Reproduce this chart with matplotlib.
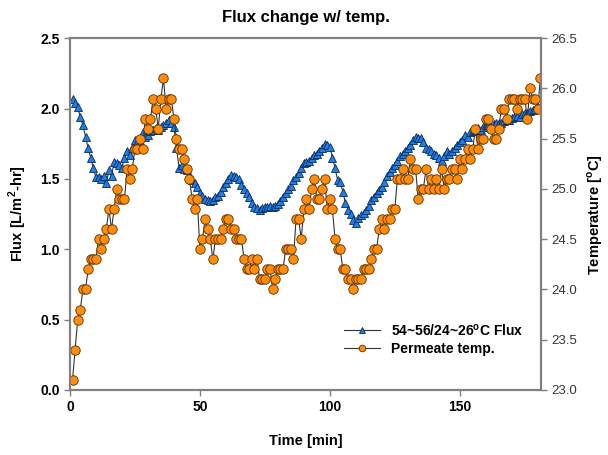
import matplotlib
matplotlib.use('Agg')
import matplotlib.pyplot as plt
import numpy as np

plt.rcParams['font.family'] = ['Liberation Sans', 'DejaVu Sans']
plt.rcParams['mathtext.fontset'] = 'custom'
plt.rcParams['mathtext.rm'] = 'Liberation Sans'
plt.rcParams['mathtext.bf'] = 'Liberation Sans:bold'

# time [min]
time = list(range(1, 182))

# flux [L/m2-hr]
flux = [2.07, 2.04, 2.01, 1.94, 1.88, 1.80, 1.72, 1.65, 1.58, 1.51,
        1.51, 1.50, 1.52, 1.47, 1.56, 1.52, 1.62, 1.61, 1.60, 1.58,
        1.65, 1.70, 1.67, 1.72, 1.78, 1.76, 1.77, 1.83, 1.80, 1.81,
        1.84, 1.85, 1.86, 1.85, 1.87, 1.88, 1.90, 1.92, 1.90, 1.87,
        1.72, 1.58, 1.60, 1.57, 1.56, 1.52, 1.49, 1.47, 1.44, 1.40,
        1.38, 1.36, 1.35, 1.34, 1.35, 1.37, 1.38, 1.41, 1.44, 1.47,
        1.50, 1.53, 1.52, 1.51, 1.50, 1.46, 1.43, 1.40, 1.37, 1.33,
        1.30, 1.29, 1.28, 1.29, 1.30, 1.30, 1.31, 1.30, 1.31, 1.32,
        1.34, 1.37, 1.40, 1.43, 1.45, 1.49, 1.51, 1.54, 1.58, 1.61,
        1.62, 1.63, 1.65, 1.67, 1.68, 1.70, 1.72, 1.75, 1.74, 1.73,
        1.65, 1.58, 1.49, 1.48, 1.41, 1.33, 1.28, 1.25, 1.21, 1.19,
        1.22, 1.24, 1.26, 1.28, 1.31, 1.35, 1.37, 1.40, 1.42, 1.44,
        1.48, 1.52, 1.55, 1.58, 1.60, 1.63, 1.66, 1.68, 1.70, 1.72,
        1.74, 1.78, 1.80, 1.79, 1.79, 1.76, 1.72, 1.71, 1.70, 1.68,
        1.67, 1.65, 1.63, 1.66, 1.70, 1.68, 1.70, 1.72, 1.74, 1.76,
        1.78, 1.81, 1.80, 1.83, 1.84, 1.85, 1.86, 1.85, 1.87, 1.88,
        1.88, 1.87, 1.89, 1.90, 1.90, 1.90, 1.91, 1.92, 1.92, 1.93,
        1.94, 1.95, 1.94, 1.96, 1.97, 1.97, 1.98, 1.99, 2.00, 2.01,
        2.00]

# permeate temperature [C]
temp = [23.1, 23.4, 23.7, 23.8, 24.0, 24.0, 24.2, 24.3, 24.3, 24.3,
        24.5, 24.4, 24.5, 24.6, 24.8, 24.6, 24.8, 25.0, 24.9, 24.9,
        24.9, 25.2, 25.1, 25.2, 25.4, 25.4, 25.5, 25.4, 25.7, 25.6,
        25.7, 25.9, 25.8, 25.6, 25.9, 26.1, 25.8, 25.9, 25.9, 25.7,
        25.5, 25.4, 25.4, 25.3, 25.2, 25.1, 24.9, 24.8, 24.9, 24.4,
        24.5, 24.7, 24.6, 24.5, 24.3, 24.5, 24.5, 24.5, 24.6, 24.7,
        24.7, 24.6, 24.6, 24.5, 24.5, 24.5, 24.3, 24.2, 24.2, 24.3,
        24.2, 24.3, 24.1, 24.1, 24.1, 24.2, 24.2, 24.0, 24.1, 24.2,
        24.2, 24.2, 24.4, 24.4, 24.4, 24.3, 24.7, 24.7, 24.5, 24.8,
        24.9, 24.8, 25.0, 25.1, 24.9, 24.9, 25.0, 25.1, 24.8, 24.9,
        24.8, 24.5, 24.4, 24.4, 24.2, 24.2, 24.1, 24.1, 24.0, 24.1,
        24.1, 24.1, 24.2, 24.2, 24.2, 24.3, 24.4, 24.4, 24.6, 24.7,
        24.6, 24.7, 24.7, 24.8, 24.8, 25.1, 25.1, 25.2, 25.1, 25.1,
        25.3, 25.2, 25.2, 24.9, 25.0, 25.0, 25.2, 25.0, 25.1, 25.0,
        25.1, 25.0, 25.2, 25.0, 25.1, 25.1, 25.2, 25.2, 25.1, 25.3,
        25.2, 25.3, 25.4, 25.3, 25.4, 25.6, 25.4, 25.5, 25.5, 25.7,
        25.7, 25.6, 25.5, 25.5, 25.6, 25.8, 25.8, 25.7, 25.9, 25.9,
        25.9, 25.8, 25.9, 25.9, 25.9, 25.7, 26.0, 25.9, 25.9, 25.8,
        26.1]

fig = plt.figure(figsize=(6.08, 4.55), dpi=100)
ax1 = fig.add_axes([0.115, 0.143, 0.775, 0.773])
ax2 = ax1.twinx()

l1, = ax1.plot(time, flux, color='#333333', lw=0.8, marker='^', ms=6,
               mfc='#1f7fe6', mec='#0a2a5a', mew=0.6)
l2, = ax2.plot(time, temp, color='#333333', lw=0.8, marker='o', ms=6.8,
               mfc='#ff8c0a', mec='#5a3000', mew=0.6)

ax1.set_xlim(0, 181.3)
ax1.set_ylim(0, 2.5)
ax2.set_ylim(23.0, 26.5)
ax1.set_xticks([0, 50, 100, 150])
ax1.set_yticks(np.arange(0, 2.51, 0.5))
ax2.set_yticks(np.arange(23.0, 26.51, 0.5))

for sp in ['left', 'right', 'top', 'bottom']:
    ax1.spines[sp].set_color('#808080')
    ax1.spines[sp].set_linewidth(1.5)
    ax2.spines[sp].set_color('#808080')
    ax2.spines[sp].set_linewidth(1.5)

ax1.tick_params(axis='both', direction='out', length=4, width=1, color='#808080',
                labelsize=10)
ax2.tick_params(axis='y', direction='out', length=4, width=1, color='#808080',
                labelsize=9.5, labelcolor='#333333')
for lab in ax1.get_xticklabels() + ax1.get_yticklabels():
    lab.set_fontweight('bold')

ax1.set_xlabel('Time [min]', fontsize=10.5, fontweight='bold', labelpad=14)
ax1.set_ylabel(r'Flux [L/m$^\mathbf{2}$-hr]', fontsize=10.5, fontweight='bold', labelpad=8)
ax2.set_ylabel(r'Temperature [$^\mathbf{o}$C]', fontsize=10.5, fontweight='bold', labelpad=6)
ax1.set_title('Flux change w/ temp.', fontsize=12, fontweight='bold', pad=12)

leg = ax1.legend([l1, l2], [r'54~56/24~26$^\mathbf{o}$C Flux', 'Permeate temp.'],
                 loc='lower right', bbox_to_anchor=(0.99, 0.06), frameon=False,
                 prop={'weight': 'bold', 'size': 10}, handlelength=2.6,
                 markerscale=0.7, labelspacing=0.3)

fig.savefig('out.png', dpi=100)
